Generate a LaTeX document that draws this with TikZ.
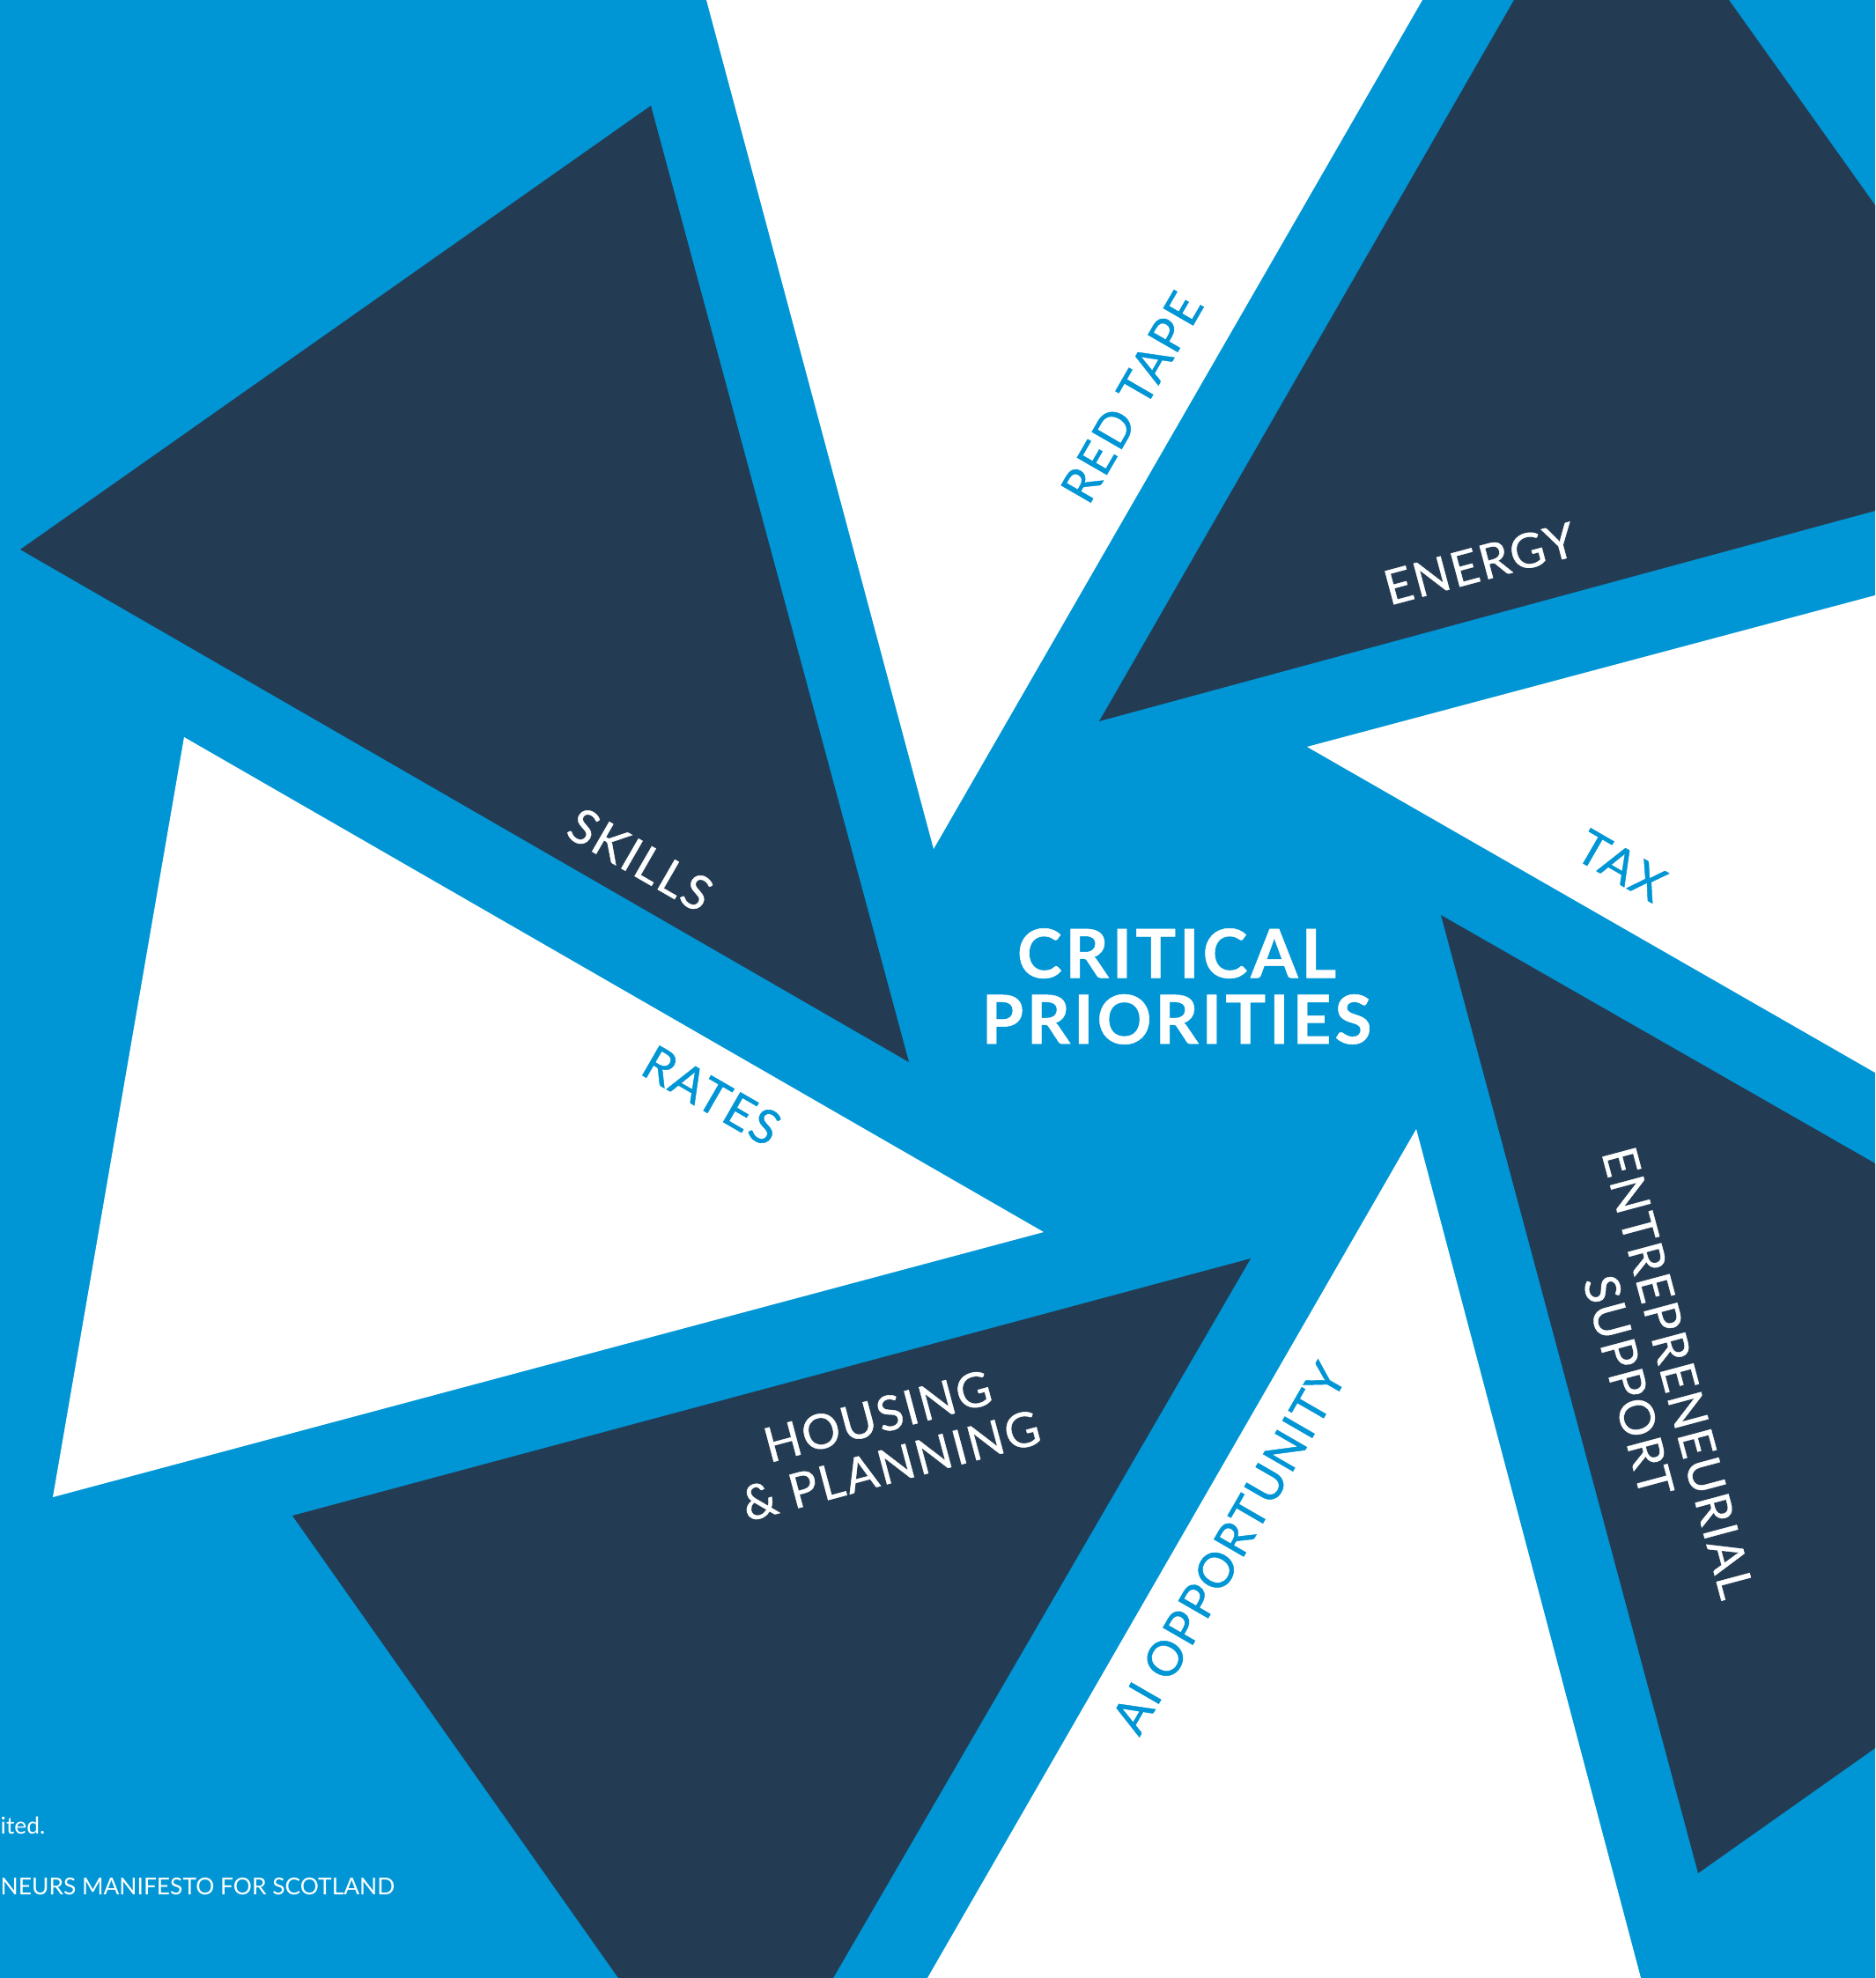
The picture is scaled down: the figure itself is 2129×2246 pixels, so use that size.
\documentclass[tikz,border=0pt]{standalone}
\usepackage{fontspec}
\setmainfont{Lato}
\newfontfamily\tagfont{Lato}[LetterSpace=4, FakeBold=0.8]
\newfontfamily\titlefont{Lato}[LetterSpace=5, BoldFeatures={FakeBold=0.7}]
\definecolor{pinblue}{HTML}{0096D5}
\definecolor{pinnavy}{HTML}{233C54}
\begin{document}
\begin{tikzpicture}[x=0.01cm,y=-0.01cm,
    navybit/.style={fill=pinnavy},
    whitebit/.style={fill=white},
    tag/.style={font=\tagfont\fontsize{15.5}{16.5}\selectfont, inner sep=0pt, align=center},
    ondark/.style={tag, text=white},
    onwhite/.style={tag, text=pinblue},
    small/.style={font=\fontsize{7.5}{9}\selectfont, text=white, inner sep=0pt, anchor=base west}]
  \useasboundingbox (0,0) rectangle (2129,2246);
  \clip (0,0) rectangle (2129,2246);
  \fill[pinblue] (0,0) rectangle (2129,2246);
  \fill[whitebit] (802,0) -- (1615,0) -- (1060,964) -- cycle;
  \fill[navybit] (1719,0) -- (1963,0) -- (2129,233) -- (2129,580) -- (1248,819) -- cycle;
  \fill[whitebit] (1484,848) -- (2129,676) -- (2129,1218) -- cycle;
  \fill[navybit] (1636,1039) -- (2129,1321) -- (2129,1985) -- (1928,2127) -- cycle;
  \fill[whitebit] (1608,1282) -- (1863,2246) -- (1053,2246) -- cycle;
  \fill[navybit] (332,1721) -- (1420,1429) -- (946,2246) -- (702,2246) -- cycle;
  \fill[whitebit] (209,837) -- (1185,1399) -- (60,1700) -- cycle;
  \fill[navybit] (23,624) -- (739,120) -- (1032,1206) -- cycle;
  \draw
    (1336,1120) node[text=white, inner sep=0pt, align=center,
      font=\titlefont\fontsize{21.8}{21.3}\selectfont\bfseries] (title) {CRITICAL\\PRIORITIES}
    (1285,451) node[onwhite, rotate=60] (redtape) {RED TAPE}
    (1680,640) node[ondark, rotate=15] (energy) {ENERGY}
    (1841,983) node[onwhite, rotate=-30] (tax) {TAX}
    (1877,1566) node[ondark, rotate=-75] (entsupport) {ENTREPRENEURIAL\\SUPPORT}
    (1395,1758) node[onwhite, rotate=60] (aiopp) {AI OPPORTUNITY}
    (1004,1636) node[ondark, rotate=15] (housing) {HOUSING\\\& PLANNING}
    (808,1244) node[onwhite, rotate=-30] (rates) {RATES}
    (727,976) node[ondark, rotate=-30] (skills) {SKILLS}
    (0,2082) node[small] (foota) {ited.}
    (0,2151) node[small] (footb) {NEURS MANIFESTO FOR SCOTLAND};
\end{tikzpicture}
\end{document}
